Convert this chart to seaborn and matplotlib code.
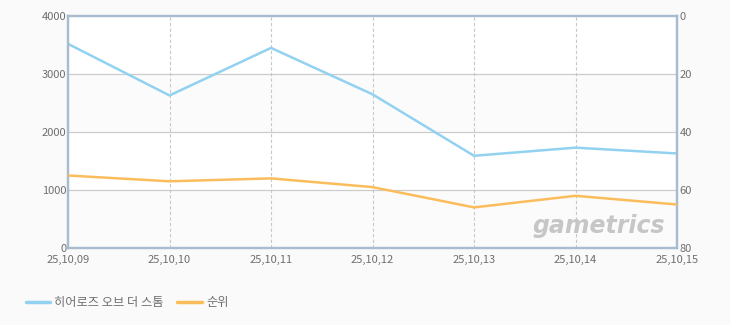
import matplotlib
matplotlib.use("Agg")
import matplotlib.pyplot as plt
import seaborn as sns
import pandas as pd
from matplotlib.lines import Line2D

dates = ["25,10,09", "25,10,10", "25,10,11", "25,10,12", "25,10,13", "25,10,14", "25,10,15"]
players = [3520, 2630, 3450, 2650, 1590, 1730, 1630]
rank = [55, 57, 56, 59, 66, 62, 65]
series_name = "히어로즈 오브 더 스톰"
rank_name = "순위"

sns.set_style("white")
plt.rcParams['font.family'] = ['Noto Sans CJK KR', 'DejaVu Sans']

BLUE = "#92d2f0"
ORANGE = "#fbbd5c"
TXT = "#6e6e6e"
FRAME = "#a9bbcf"

df = pd.DataFrame({"x": range(len(dates)), "players": players, "rank": rank})

fig = plt.figure(figsize=(7.3, 3.25), dpi=100, facecolor="#fafafa")
ax = fig.add_axes([68/730, 1-248/325, (677-68)/730, (248-16)/325])
ax.set_facecolor("white")
ax.set_xlim(0, len(dates)-1)
ax.set_ylim(0, 4000)
for lo in (0, 2000):
    ax.axhspan(lo, lo+1000, color="#fbfbfb", zorder=0, lw=0)
for v in (1000, 2000, 3000):
    ax.axhline(v, color="#cccccc", lw=0.9, zorder=1)
for i in range(1, len(dates)-1):
    ax.axvline(i, color="#c8c8c8", lw=0.8, ls=(0, (3, 2)), zorder=1)

sns.lineplot(data=df, x="x", y="players", ax=ax, color=BLUE, lw=1.8, zorder=3)
ax.set_xticks(range(len(dates)))
ax.set_xticklabels(dates)
ax.set_yticks([0, 1000, 2000, 3000, 4000])
ax.set_xlabel("")
ax.set_ylabel("")
ax.tick_params(axis="both", length=0, labelsize=8, colors=TXT)
ax.tick_params(axis="x", pad=5)
ax.tick_params(axis="y", pad=1)
for lab in ax.get_yticklabels():
    lab.set_va("center_baseline")

ax2 = ax.twinx()
sns.lineplot(data=df, x="x", y="rank", ax=ax2, color=ORANGE, lw=1.8, zorder=3)
ax2.set_ylim(80, 0)
ax2.set_yticks([0, 20, 40, 60, 80])
ax2.set_ylabel("")
ax2.tick_params(axis="y", length=0, labelsize=8, colors=TXT, pad=2)
ax2.set_xlim(0, len(dates)-1)
for lab in ax2.get_yticklabels():
    lab.set_va("center_baseline")

for a in (ax, ax2):
    for s in a.spines.values():
        s.set_color(FRAME)
        s.set_linewidth(1.6)

ax.text(0.98, 0.065, "gametrics", transform=ax.transAxes, ha="right", va="baseline",
        fontsize=17, fontstyle="italic", fontweight="bold", color="#c6c6c6",
        family=["DejaVu Sans"], zorder=2)

handles = [Line2D([], [], color=BLUE, lw=2.5), Line2D([], [], color=ORANGE, lw=2.5)]
fig.legend(handles, [series_name, rank_name], loc="lower left", bbox_to_anchor=(0.02, 0.015),
           ncol=2, frameon=False, fontsize=8.8, labelcolor=TXT, handlelength=2.0,
           handletextpad=0.35, columnspacing=1.1)

fig.savefig("out.png", dpi=100, facecolor=fig.get_facecolor())
